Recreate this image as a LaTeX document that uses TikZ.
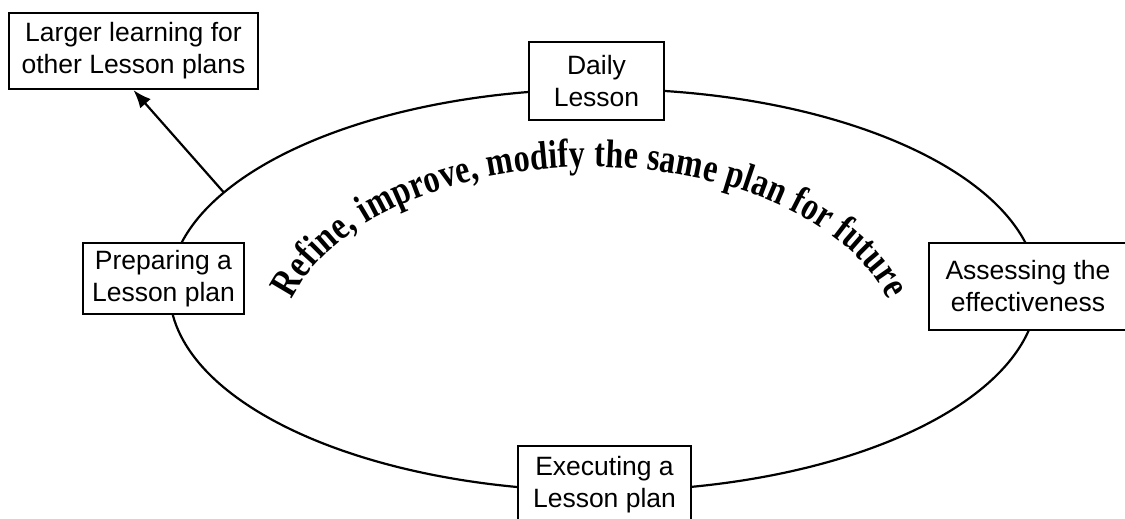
\documentclass[tikz,border=0pt]{standalone}
\usepackage{fontspec}
\setmainfont{Liberation Sans}
\newfontfamily\arcfont[FakeStretch=0.8]{Liberation Serif}
\usetikzlibrary{arrows.meta,decorations.text}
\begin{document}
\begin{tikzpicture}[x=1pt,y=1pt,
  box/.style={draw,line width=2.2pt,fill=white,inner sep=0pt,align=center,
    font=\fontsize{26.5}{32}\selectfont},
  ring/.style={line width=2.2pt},
  link/.style={line width=2.2pt,-{Latex[length=18pt,width=14pt]}}]
\useasboundingbox (0,0) rectangle (1125,519);
% main cycle ellipse
\coordinate (ec) at (603.5,229);
\draw[ring] (ec) ellipse[x radius=434,y radius=201];
\coordinate (s) at ({603.5+434*cos(151)},{229+201*sin(151)});
% arched text
\path[decorate,decoration={text along path,text align=fit to path,
  text={|\arcfont\bfseries\fontsize{40}{44}\selectfont|Refine, improve, modify the same plan for future}}]
  ({590+310*cos(164)},{169+183*sin(164)}) arc[start angle=164,end angle=16,x radius=310,y radius=183];
% boxes
\node[box,minimum width=249pt,minimum height=76pt] (larger) at (133.5,468) {Larger learning for\\other Lesson plans};
\node[box,minimum width=135pt,minimum height=78pt] (daily) at (596.5,438) {Daily\\Lesson};
\node[box,minimum width=161pt,minimum height=71pt] (prep) at (163.5,240.5) {Preparing a\\Lesson plan};
\node[box,minimum width=198pt,minimum height=87pt] (assess) at (1028,232.5) {Assessing the\\effectiveness};
\node[box,minimum width=173pt,minimum height=78pt] (exec) at (604.5,34) {Executing a\\Lesson plan};
% arrow
\draw[link] (s) -- (larger.south);
\end{tikzpicture}
\end{document}
